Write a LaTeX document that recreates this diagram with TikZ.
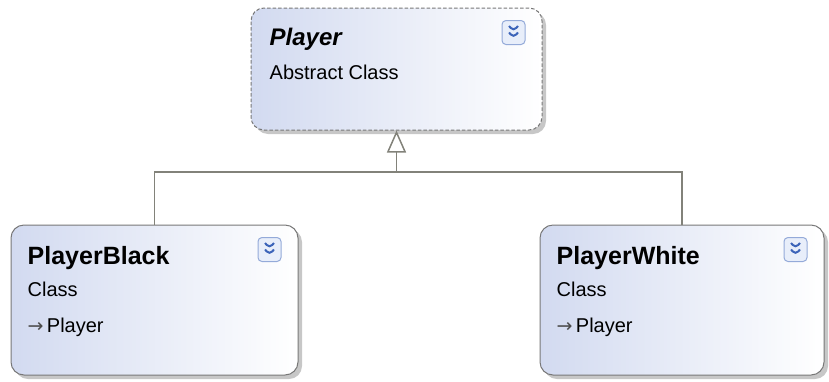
\documentclass[tikz,border=0pt]{standalone}
\usepackage{fontspec}
\setmainfont{Liberation Sans}
\newfontfamily\symfont{DejaVu Sans}
\usetikzlibrary{arrows.meta,shadows,positioning}

\definecolor{boxblue}{RGB}{210,218,240}
\definecolor{boxline}{RGB}{120,120,120}
\definecolor{linkgray}{RGB}{130,130,122}
\definecolor{iconblue}{RGB}{60,100,185}
\definecolor{iconfill}{RGB}{232,238,250}

\tikzset{
  classbox/.style={draw=boxline, line width=1pt, rounded corners=13pt,
    left color=boxblue, right color=white, inner sep=0pt,
    drop shadow={shadow xshift=4pt, shadow yshift=-4pt, fill=black!22, opacity=1}},
  abstractbox/.style={classbox, dash pattern=on 3.5pt off 2pt},
  titletext/.style={anchor=base west, inner sep=0pt, font=\bfseries\fontsize{25}{28}\selectfont},
  kindtext/.style={anchor=base west, inner sep=0pt, font=\fontsize{20}{24}\selectfont},
  expander/.style={draw=iconblue!55, fill=iconfill, line width=1pt, rounded corners=4pt,
    minimum width=23pt, minimum height=24pt, inner sep=0pt,
    path picture={
      \draw[iconblue, line width=2pt]
        ([shift={(-4.5pt,6.5pt)}]path picture bounding box.center) -- ++(4.5pt,-5pt) -- ++(4.5pt,5pt)
        ([shift={(-4.5pt,0pt)}]path picture bounding box.center) -- ++(4.5pt,-5pt) -- ++(4.5pt,5pt);
    }},
  link/.style={draw=linkgray, line width=1.8pt},
}

\begin{document}
\begin{tikzpicture}[x=1pt, y={(0pt,-1pt)}]
  \useasboundingbox (0,0) rectangle (829,381);

  % class boxes
  \node[abstractbox, minimum width=291pt, minimum height=122pt] (plr) at (396.5,69) {};
  \node[classbox, minimum width=287pt, minimum height=150pt] (blk) at (154.5,300) {};
  \node[classbox, minimum width=284pt, minimum height=150pt] (wht) at (682,300) {};

  % texts
  \node[titletext, font=\bfseries\itshape\fontsize{24}{28}\selectfont] (plrname) at ([shift={(19pt,-38pt)}]plr.north west) {Player};
  \node[kindtext] (plrkind) at ([shift={(19pt,-72pt)}]plr.north west) {Abstract Class};

  \node[titletext] (blkname) at ([shift={(17pt,-40pt)}]blk.north west) {PlayerBlack};
  \node[kindtext] (blkkind) at ([shift={(17pt,-72pt)}]blk.north west) {Class};
  \node[kindtext] (blkbase) at ([shift={(17pt,-108pt)}]blk.north west)
    {{\symfont\fontsize{19}{22}\selectfont\color{black!70}→}\,Player};

  \node[titletext] (whtname) at ([shift={(17pt,-40pt)}]wht.north west) {PlayerWhite};
  \node[kindtext] (whtkind) at ([shift={(17pt,-72pt)}]wht.north west) {Class};
  \node[kindtext] (whtbase) at ([shift={(17pt,-108pt)}]wht.north west)
    {{\symfont\fontsize{19}{22}\selectfont\color{black!70}→}\,Player};

  % expander icons
  \foreach \b in {plr,blk,wht}
    \node[expander] (\b icon) at ([shift={(-29pt,-25pt)}]\b.north east) {};

  % inheritance
  \coordinate (join) at (plr.south |- 0,172);
  \draw[link] (blk.north) |- (join) -| (wht.north);
  \draw[link, -{Triangle[open, length=22pt, width=19pt, line width=1.5pt]}] (join) -- (plr.south);
\end{tikzpicture}
\end{document}
